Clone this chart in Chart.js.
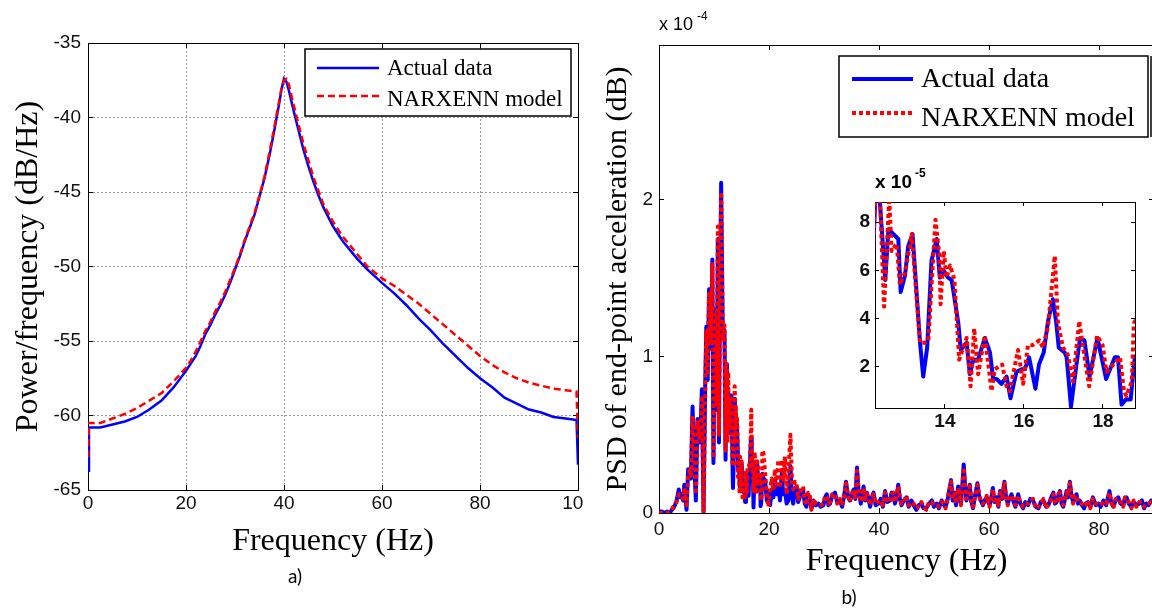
<!DOCTYPE html>
<html>
<head>
<meta charset="utf-8">
<script src="https://cdn.jsdelivr.net/npm/chart.js@4.4.1/dist/chart.umd.min.js"></script>
<style>
  html, body { margin: 0; padding: 0; background: #fff; overflow: hidden; width: 1152px; height: 610px; }
  .pane { position: absolute; overflow: hidden; }
</style>
</head>
<body>
<div class="pane" style="left:0;top:0;width:584px;height:610px"><canvas id="psdChart" width="640" height="610"></canvas></div>
<div class="pane" style="left:600px;top:0;width:560px;height:610px"><canvas id="accChart" width="560" height="610"></canvas></div>
<div class="pane" style="left:820px;top:160px;width:330px;height:270px"><canvas id="zoomChart" width="330" height="270"></canvas></div>
<script>
// ---- a) power spectral density, dB/Hz ----
const freqA = [0, 0.2, 2.5, 5, 7.5, 10, 12.5, 15, 17.5, 20,
  21, 22, 23, 24, 25, 26, 27, 28, 29, 30,
  31, 32, 33, 34, 35, 36, 37, 38, 39,
  39.5, 40, 40.5, 41,
  42, 43, 44, 45, 46, 47, 48,
  50, 52, 55, 57, 60,
  62.5, 65, 67.5, 70, 72.5, 75, 77.5, 80,
  82.5, 85, 87.5, 90, 92.5, 95, 97.5, 99.7, 100];
const actualA = [-63.7, -60.8, -60.8, -60.6, -60.4, -60.1, -59.6, -59.0, -58.1, -57.0,
  -56.5, -56.0, -55.3, -54.5, -53.9, -53.2, -52.6, -51.9, -51.1, -50.2,
  -49.3, -48.3, -47.4, -46.5, -45.3, -44.1, -42.6, -40.9, -39.1,
  -38.1, -37.4, -37.6, -38.2,
  -39.6, -40.9, -42.2, -43.3, -44.3, -45.2, -46.0,
  -47.3, -48.3, -49.5, -50.2, -51.1,
  -51.8, -52.6, -53.5, -54.3, -55.2, -56.0, -56.8, -57.5,
  -58.1, -58.8, -59.2, -59.6, -59.8, -60.1, -60.2, -60.3, -63.3];
const modelA = [-62.8, -60.5, -60.5, -60.2, -59.9, -59.5, -59.0, -58.5, -57.7, -56.8,
  -56.3, -55.7, -55.0, -54.3, -53.7, -53.0, -52.4, -51.7, -50.9, -50.1,
  -49.2, -48.2, -47.3, -46.4, -45.2, -44.0, -42.4, -40.7, -38.9,
  -38.0, -37.5, -37.4, -37.8,
  -39.2, -40.5, -41.8, -42.9, -44.0, -44.9, -45.8,
  -47.0, -48.0, -49.2, -50.0, -50.8,
  -51.3, -51.9, -52.5, -53.2, -53.9, -54.6, -55.3, -56.0,
  -56.6, -57.1, -57.5, -57.8, -58.0, -58.2, -58.3, -58.4, -61.5];

// ---- b) PSD of end-point acceleration, values in units of 1e-4 ----
// 0 - 12 Hz (shared frequency grid)
const freqLow = [0, 0.5, 1, 1.5, 2, 2.3, 2.6, 2.9, 3.2, 3.6,
  3.9, 4.1, 4.4, 4.6, 5.0, 5.3, 5.6, 5.8, 6.1, 6.4,
  6.7, 7.0, 7.3, 7.5, 7.8, 8.1, 8.4, 8.6, 8.85, 9.1,
  9.4, 9.7, 9.9, 10.2, 10.5, 10.7, 10.9, 11.1, 11.3, 11.6,
  11.9, 12.1];
const actualLow = [0.01, 0.01, 0.00, 0.01, 0.00, 0.02, 0.03, 0.05, 0.08, 0.15,
  0.10, 0.12, 0.08, 0.18, 0.02, 0.28, 0.25, 0.22, 0.68, 0.32,
  0.08, 0.60, 0.45, 0.49, 0.79, 0.01, 0.81, 1.19, 0.85, 1.43,
  1.05, 1.62, 0.32, 1.30, 0.66, 1.75, 0.45, 1.40, 2.11, 1.13,
  1.17, 0.34];
const modelLow = [0.00, 0.00, 0.00, 0.00, 0.01, 0.02, 0.04, 0.06, 0.07, 0.12,
  0.11, 0.10, 0.09, 0.16, 0.05, 0.25, 0.27, 0.24, 0.62, 0.35,
  0.12, 0.58, 0.50, 0.47, 0.75, 0.00, 0.78, 1.16, 0.88, 1.40,
  1.08, 1.59, 0.35, 1.27, 0.70, 1.83, 0.50, 1.35, 2.05, 1.10,
  1.20, 0.40];

// 12.2 - 18.9 Hz
const freqMidActual = [12.25, 12.36, 12.49, 12.57, 12.82, 12.88, 12.99, 13.07, 13.18, 13.37,
  13.45, 13.55, 13.66, 13.79, 13.87, 13.96, 14.08, 14.17, 14.34, 14.40,
  14.55, 14.63, 14.72, 14.84, 15.01, 15.14, 15.22, 15.31, 15.43, 15.56,
  15.66, 15.81, 15.94, 16.02, 16.13, 16.29, 16.38, 16.50, 16.61, 16.73,
  16.82, 16.88, 17.03, 17.08, 17.19, 17.32, 17.42, 17.53, 17.66, 17.86,
  18.08, 18.30, 18.38, 18.47, 18.58, 18.70, 18.81];
const actualMid = [0.95, 0.87, 0.56, 0.77, 0.73, 0.51, 0.58, 0.70, 0.75, 0.30,
  0.16, 0.28, 0.64, 0.73, 0.57, 0.60, 0.57, 0.56, 0.38, 0.27,
  0.30, 0.17, 0.23, 0.23, 0.32, 0.26, 0.15, 0.15, 0.13, 0.16,
  0.07, 0.18, 0.19, 0.19, 0.24, 0.11, 0.21, 0.26, 0.39, 0.48,
  0.38, 0.28, 0.26, 0.24, 0.035, 0.20, 0.32, 0.31, 0.16, 0.32,
  0.15, 0.24, 0.24, 0.044, 0.065, 0.065, 0.25];
const freqMidModel = [12.25, 12.36, 12.46, 12.52, 12.59, 12.65, 12.78, 12.86, 12.99, 13.16,
  13.37, 13.49, 13.58, 13.76, 13.86, 13.89, 13.97, 14.04, 14.13, 14.24,
  14.36, 14.55, 14.65, 14.74, 14.84, 15.01, 15.18, 15.26, 15.45, 15.56,
  15.64, 15.85, 15.98, 16.10, 16.22, 16.39, 16.48, 16.61, 16.78, 16.86,
  16.99, 17.11, 17.24, 17.40, 17.46, 17.65, 17.85, 17.99, 18.09, 18.26,
  18.43, 18.53, 18.59, 18.73, 18.78, 18.85];
const modelMid = [0.95, 0.88, 0.45, 0.66, 0.90, 0.68, 0.71, 0.54, 0.59, 0.75,
  0.30, 0.30, 0.31, 0.81, 0.66, 0.46, 0.68, 0.57, 0.62, 0.56,
  0.23, 0.32, 0.12, 0.36, 0.17, 0.33, 0.10, 0.19, 0.21, 0.12,
  0.10, 0.27, 0.13, 0.29, 0.29, 0.31, 0.28, 0.37, 0.66, 0.38,
  0.28, 0.25, 0.14, 0.39, 0.32, 0.12, 0.33, 0.29, 0.18, 0.21,
  0.24, 0.10, 0.08, 0.14, 0.38, 0.40];

// 19 - 90 Hz (shared frequency grid)
const freqHigh = [19.0, 19.3, 19.6, 19.9, 20.2, 20.5, 20.8, 21.1, 21.4, 21.7,
  22.0, 22.3, 22.6, 22.9, 23.2, 23.5, 23.9, 24.2, 24.4, 24.7,
  25.0, 25.3, 25.6, 25.9, 26.2, 26.5, 26.8, 27.1, 27.4, 27.7,
  28.1, 28.5, 29.0, 29.4, 29.9, 30.2, 30.5, 30.8, 31.1, 31.5,
  32.0, 32.4, 32.9, 33.3, 33.7, 34.0, 34.4, 34.7, 35.1, 35.4,
  35.7, 36.0, 36.3, 36.7, 37.0, 37.2, 37.5, 37.8, 38.1, 38.4,
  38.7, 39.0, 39.4, 39.9, 40.3, 40.7, 41.1, 41.5, 42.0, 42.3,
  42.6, 42.9, 43.2, 43.5, 43.8, 44.1, 44.5, 45.0, 45.4, 45.9,
  46.3, 46.8, 47.2, 47.7, 48.1, 48.6, 49.1, 49.6, 50.0, 50.5,
  50.9, 51.4, 51.8, 52.1, 52.5, 53.1, 53.4, 53.7, 54.0, 54.4,
  54.7, 54.9, 55.2, 55.4, 55.7, 55.9, 56.2, 56.5, 56.8, 57.1,
  57.5, 57.9, 58.2, 58.5, 58.9, 59.2, 59.6, 60.1, 60.4, 60.7,
  61.0, 61.4, 61.7, 62.0, 62.4, 62.8, 63.1, 63.4, 63.8, 64.1,
  64.4, 64.8, 65.3, 65.7, 66.2, 66.6, 67.1, 67.5, 68.0, 68.5,
  69.0, 69.4, 69.9, 70.4, 70.8, 71.2, 71.7, 72.0, 72.3, 72.6,
  72.9, 73.2, 73.5, 73.8, 74.1, 74.4, 74.7, 75.0, 75.3, 75.6,
  75.9, 76.2, 76.5, 76.9, 77.3, 77.6, 78.0, 78.4, 78.9, 79.4,
  79.9, 80.3, 80.8, 81.3, 81.9, 82.2, 82.6, 83.0, 83.5, 83.9,
  84.4, 84.7, 85.0, 85.4, 85.9, 86.3, 86.8, 87.3, 87.8, 88.2,
  88.6, 89.0, 89.5, 90.0];
const actualHigh = [0.22, 0.21, 0.08, 0.13, 0.05, 0.15, 0.10, 0.21, 0.12, 0.17,
  0.08, 0.25, 0.12, 0.15, 0.06, 0.08, 0.30, 0.10, 0.06, 0.15,
  0.17, 0.07, 0.10, 0.14, 0.15, 0.06, 0.04, 0.12, 0.10, 0.03,
  0.08, 0.05, 0.06, 0.04, 0.05, 0.10, 0.12, 0.05, 0.06, 0.11,
  0.13, 0.07, 0.08, 0.04, 0.12, 0.20, 0.10, 0.08, 0.12, 0.15,
  0.09, 0.29, 0.14, 0.06, 0.12, 0.17, 0.08, 0.13, 0.09, 0.04,
  0.10, 0.13, 0.05, 0.06, 0.09, 0.04, 0.14, 0.07, 0.08, 0.13,
  0.12, 0.06, 0.10, 0.18, 0.09, 0.05, 0.08, 0.10, 0.04, 0.08,
  0.05, 0.02, 0.05, 0.06, 0.03, 0.03, 0.06, 0.08, 0.04, 0.06,
  0.03, 0.08, 0.05, 0.04, 0.09, 0.21, 0.08, 0.13, 0.05, 0.17,
  0.10, 0.06, 0.20, 0.31, 0.15, 0.08, 0.12, 0.18, 0.07, 0.03,
  0.12, 0.19, 0.11, 0.08, 0.05, 0.08, 0.10, 0.05, 0.09, 0.16,
  0.07, 0.10, 0.04, 0.14, 0.09, 0.20, 0.10, 0.06, 0.10, 0.12,
  0.08, 0.04, 0.12, 0.06, 0.03, 0.07, 0.05, 0.09, 0.08, 0.04,
  0.03, 0.07, 0.08, 0.04, 0.05, 0.09, 0.13, 0.06, 0.07, 0.11,
  0.14, 0.06, 0.04, 0.09, 0.14, 0.10, 0.20, 0.11, 0.07, 0.10,
  0.12, 0.06, 0.08, 0.05, 0.03, 0.06, 0.07, 0.04, 0.10, 0.05,
  0.06, 0.04, 0.08, 0.05, 0.14, 0.07, 0.04, 0.08, 0.10, 0.06,
  0.05, 0.09, 0.10, 0.06, 0.04, 0.07, 0.05, 0.06, 0.08, 0.03,
  0.06, 0.05, 0.08, 0.06];
const modelHigh = [0.38, 0.25, 0.12, 0.04, 0.15, 0.22, 0.14, 0.28, 0.18, 0.34,
  0.16, 0.34, 0.20, 0.36, 0.12, 0.25, 0.50, 0.18, 0.15, 0.20,
  0.19, 0.09, 0.12, 0.16, 0.17, 0.08, 0.05, 0.13, 0.11, 0.02,
  0.09, 0.06, 0.05, 0.05, 0.06, 0.11, 0.10, 0.06, 0.07, 0.12,
  0.12, 0.06, 0.09, 0.05, 0.11, 0.19, 0.11, 0.07, 0.13, 0.14,
  0.10, 0.27, 0.15, 0.07, 0.11, 0.16, 0.09, 0.12, 0.10, 0.05,
  0.09, 0.12, 0.06, 0.07, 0.08, 0.05, 0.13, 0.08, 0.07, 0.12,
  0.13, 0.07, 0.11, 0.17, 0.10, 0.06, 0.07, 0.11, 0.05, 0.07,
  0.06, 0.03, 0.04, 0.07, 0.04, 0.02, 0.07, 0.07, 0.05, 0.05,
  0.04, 0.07, 0.06, 0.03, 0.10, 0.20, 0.09, 0.12, 0.06, 0.16,
  0.11, 0.05, 0.19, 0.29, 0.16, 0.09, 0.11, 0.17, 0.08, 0.04,
  0.11, 0.18, 0.12, 0.07, 0.06, 0.07, 0.11, 0.04, 0.10, 0.15,
  0.08, 0.09, 0.05, 0.13, 0.10, 0.19, 0.11, 0.05, 0.11, 0.11,
  0.09, 0.05, 0.11, 0.07, 0.04, 0.06, 0.06, 0.08, 0.09, 0.03,
  0.04, 0.06, 0.09, 0.03, 0.06, 0.08, 0.12, 0.07, 0.06, 0.12,
  0.13, 0.07, 0.05, 0.08, 0.13, 0.11, 0.19, 0.12, 0.06, 0.11,
  0.11, 0.07, 0.07, 0.06, 0.04, 0.05, 0.08, 0.03, 0.09, 0.06,
  0.05, 0.05, 0.07, 0.06, 0.13, 0.08, 0.03, 0.09, 0.09, 0.07,
  0.04, 0.10, 0.09, 0.07, 0.03, 0.08, 0.04, 0.07, 0.07, 0.04,
  0.05, 0.06, 0.07, 0.07];

const seriesLabels = ['Actual data', 'NARXENN model'];

// helper: x/y arrays -> point objects
const pts = (xs, ys) => xs.map((x, i) => ({ x: x, y: ys[i] }));

const actualB = pts(freqLow.concat(freqMidActual, freqHigh), actualLow.concat(actualMid, actualHigh));
const modelB = pts(freqLow.concat(freqMidModel, freqHigh), modelLow.concat(modelMid, modelHigh));

const SANS = "'Liberation Sans', Arial, sans-serif";
const SERIF = "'Liberation Serif', 'Times New Roman', serif";

// legend with a frame, drawn at a fixed place inside the axes
const boxLegend = {
  id: 'boxLegend',
  afterDraw(chart, args, o) {
    if (!o || o.x === undefined) return;
    const ctx = chart.ctx;
    ctx.save();
    ctx.fillStyle = '#fff';
    ctx.fillRect(o.x, o.y, o.w, o.h);
    ctx.strokeStyle = '#000';
    ctx.lineWidth = 1.5;
    ctx.strokeRect(o.x, o.y, o.w, o.h);
    if (o.double) {
      ctx.beginPath();
      ctx.moveTo(o.x + o.w + o.double, o.y);
      ctx.lineTo(o.x + o.w + o.double, o.y + o.h);
      ctx.stroke();
    }
    chart.data.datasets.forEach((ds, i) => {
      ctx.strokeStyle = ds.borderColor;
      ctx.lineWidth = ds.borderWidth;
      ctx.setLineDash(ds.borderDash || []);
      ctx.beginPath();
      ctx.moveTo(o.lineFrom, o.lineRows[i]);
      ctx.lineTo(o.lineTo, o.lineRows[i]);
      ctx.stroke();
      ctx.setLineDash([]);
      ctx.fillStyle = '#000';
      ctx.font = o.font;
      ctx.textAlign = 'left';
      ctx.textBaseline = 'middle';
      ctx.fillText(ds.label, o.textX, o.textRows[i]);
    });
    ctx.restore();
  }
};

// loose text items (panel letters, exponent labels)
const notes = {
  id: 'notes',
  afterDraw(chart, args, o) {
    if (!o || !o.items) return;
    const ctx = chart.ctx;
    ctx.save();
    o.items.forEach((t) => {
      ctx.font = t.font;
      ctx.fillStyle = '#000';
      ctx.textAlign = t.align || 'left';
      ctx.textBaseline = t.baseline || 'alphabetic';
      ctx.fillText(t.text, t.x, t.y);
    });
    ctx.restore();
  }
};

// mirror axis on the top / right: only the inward tick marks and the frame line
function frameAxis(pos, min, max, step, len) {
  return {
    type: 'linear', position: pos, min: min, max: max,
    ticks: { display: false, stepSize: step, includeBounds: false },
    grid: { drawOnChartArea: false, tickLength: -len, tickColor: '#000' },
    border: { color: '#000', width: 1 },
    afterFit: (s) => { if (s.isHorizontal()) s.height = 0; else s.width = 0; }
  };
}

// ---------------- a) ----------------
new Chart(document.getElementById('psdChart').getContext('2d'), {
  type: 'line',
  data: {
    datasets: [
      { label: seriesLabels[0], data: pts(freqA, actualA), borderColor: '#0000ff', borderWidth: 2.5, order: 1 },
      { label: seriesLabels[1], data: pts(freqA, modelA), borderColor: '#ff0000', borderWidth: 2.5, borderDash: [7, 4], order: 0 }
    ]
  },
  options: {
    responsive: false,
    animation: false,
    events: [],
    layout: { padding: { left: 0, top: 43, right: 62, bottom: 0 } },
    elements: { point: { radius: 0 }, line: { tension: 0, fill: false } },
    plugins: {
      legend: { display: false },
      tooltip: { enabled: false },
      boxLegend: { x: 305, y: 49, w: 266, h: 67, lineFrom: 317, lineTo: 379, lineRows: [68, 96],
                   textX: 387, textRows: [68.5, 100], font: '23px ' + SERIF },
      notes: { items: [{ text: 'a)', x: 295, y: 577, font: "19px Lato, sans-serif", align: 'center', baseline: 'middle' }] }
    },
    scales: {
      x: {
        type: 'linear', position: 'bottom', min: 0, max: 100,
        ticks: { stepSize: 20, padding: 7, color: '#111', font: { family: SANS, size: 19 } },
        grid: { color: '#9a9a9a', tickColor: '#000', tickLength: -5 },
        border: { color: '#000', width: 1, dash: [2, 2] },
        title: { display: true, text: 'Frequency (Hz)', color: '#000', font: { family: SERIF, size: 32 }, padding: { top: 0, bottom: 49 } },
        afterFit: (s) => { s.height = 120; }
      },
      y: {
        type: 'linear', position: 'left', min: -65, max: -35,
        ticks: { stepSize: 5, padding: 12, color: '#111', font: { family: SANS, size: 19 } },
        grid: { color: '#9a9a9a', tickColor: '#000', tickLength: -5 },
        border: { color: '#000', width: 1, dash: [2, 2] },
        title: { display: true, text: 'Power/frequency (dB/Hz)', color: '#000', font: { family: SERIF, size: 32 }, padding: { top: 9, bottom: 0 } },
        afterFit: (s) => { s.width = 88; }
      },
      xTop: frameAxis('top', 0, 100, 20, 5),
      yRight: frameAxis('right', -65, -35, 5, 5)
    }
  },
  plugins: [boxLegend, notes]
});

// ---------------- b) ----------------
const lineB = (i) => ({
  label: seriesLabels[i],
  data: i === 0 ? actualB : modelB,
  borderColor: i === 0 ? '#0000ff' : '#ff0000',
  borderWidth: 4,
  borderDash: i === 0 ? [] : [4, 3],
  borderJoinStyle: 'round',
  order: i === 0 ? 1 : 0,
  xAxisID: 'x', yAxisID: 'y'
});

new Chart(document.getElementById('accChart').getContext('2d'), {
  type: 'line',
  data: { datasets: [lineB(0), lineB(1)] },
  options: {
    responsive: false,
    animation: false,
    events: [],
    layout: { padding: { left: 0, top: 45, right: 6, bottom: 0 } },
    elements: { point: { radius: 0 }, line: { tension: 0, fill: false } },
    plugins: {
      legend: { display: false },
      tooltip: { enabled: false },
      boxLegend: { x: 239, y: 56, w: 309, h: 81, double: 3, lineFrom: 252, lineTo: 313, lineRows: [79, 113],
                   textX: 321, textRows: [80, 119], font: '28px ' + SERIF },
      notes: { items: [
        { text: 'b)', x: 249, y: 598, font: "19px Lato, sans-serif", align: 'center', baseline: 'middle' },
        { text: 'x 10', x: 59, y: 30, font: '18px ' + SANS },
        { text: '-4', x: 97, y: 20, font: '12px ' + SANS }
      ] }
    },
    scales: {
      x: {
        type: 'linear', position: 'bottom', min: 0, max: 90,
        ticks: { stepSize: 20, includeBounds: false, padding: 10, color: '#111', font: { family: SANS, size: 19 } },
        grid: { drawOnChartArea: false, tickColor: '#000', tickLength: -5 },
        border: { color: '#000', width: 1 },
        title: { display: true, text: 'Frequency (Hz)', color: '#000', font: { family: SERIF, size: 32 }, padding: { top: 0, bottom: 29 } },
        afterFit: (s) => { s.height = 97; }
      },
      y: {
        type: 'linear', position: 'left', min: 0, max: 2.99,
        ticks: { stepSize: 1, includeBounds: false, padding: 11, color: '#111', font: { family: SANS, size: 19 } },
        grid: { drawOnChartArea: false, tickColor: '#000', tickLength: -5 },
        border: { color: '#000', width: 1 },
        title: { display: true, text: 'PSD of end-point acceleration (dB)', color: '#000', font: { family: SERIF, size: 30 }, padding: { top: 0, bottom: 0 } },
        afterFit: (s) => { s.width = 59; }
      },
      xTop: frameAxis('top', 0, 90, 20, 5),
      yRight: frameAxis('right', 0, 2.99, 1, 5)
    }
  },
  plugins: [boxLegend, notes]
});

// ---------------- inset (zoom of 12-19 Hz, labels in 1e-5) ----------------
new Chart(document.getElementById('zoomChart').getContext('2d'), {
  type: 'line',
  data: { datasets: [lineB(0), lineB(1)] },
  options: {
    responsive: false,
    animation: false,
    events: [],
    layout: { padding: { left: 0, top: 42, right: 15, bottom: 0 } },
    elements: { point: { radius: 0 }, line: { tension: 0, fill: false } },
    plugins: {
      legend: { display: false },
      tooltip: { enabled: false },
      notes: { items: [
        { text: 'x 10', x: 55, y: 28, font: 'bold 19px ' + SANS },
        { text: '-5', x: 95, y: 17, font: 'bold 12px ' + SANS }
      ] }
    },
    scales: {
      x: {
        type: 'linear', position: 'bottom', min: 12.23, max: 18.81,
        ticks: { stepSize: 2, includeBounds: false, padding: 6, color: '#111', font: { family: SANS, size: 19, weight: 'bold' } },
        grid: { drawOnChartArea: false, tickColor: '#000', tickLength: -4 },
        border: { color: '#000', width: 1 },
        afterFit: (s) => { s.height = 22; }
      },
      y: {
        type: 'linear', position: 'left', min: 0.03, max: 0.883,
        ticks: { stepSize: 0.2, includeBounds: false, padding: 9, color: '#111', font: { family: SANS, size: 19, weight: 'bold' },
                 callback: (v) => Math.round(v * 10) },
        grid: { drawOnChartArea: false, tickColor: '#000', tickLength: -4 },
        border: { color: '#000', width: 1 },
        afterFit: (s) => { s.width = 55; }
      },
      xTop: frameAxis('top', 12.23, 18.81, 2, 4),
      yRight: frameAxis('right', 0.03, 0.883, 0.2, 4)
    }
  },
  plugins: [notes]
});
</script>
</body>
</html>
